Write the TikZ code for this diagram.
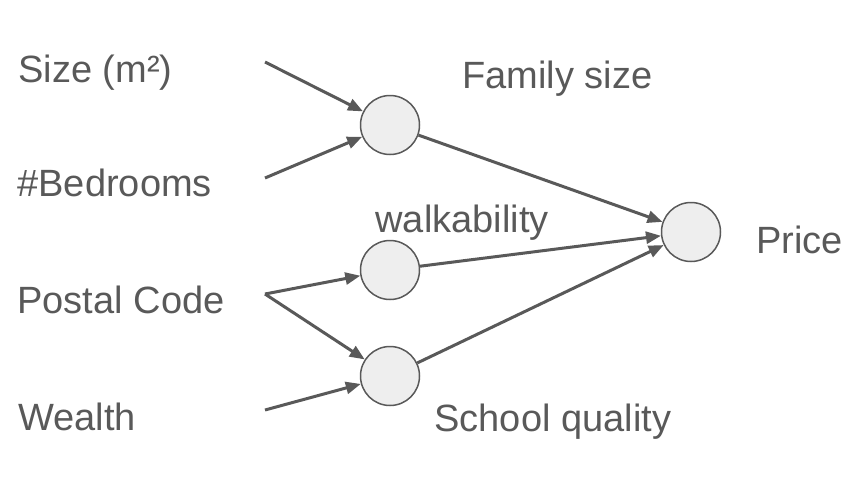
\documentclass[tikz,border=0pt]{standalone}
\usepackage{fontspec}
\setmainfont{Liberation Sans}
\usepackage{xcolor}
\usetikzlibrary{arrows.meta}

\definecolor{ink}{HTML}{595959}
\definecolor{unitfill}{HTML}{EEEEEE}

\begin{document}
\begin{tikzpicture}[x=1pt, y=-1pt, -{Triangle[length=15pt,width=12pt]}, line width=3pt, draw=ink, color=ink]
\useasboundingbox (0,0) rectangle (864,480);
\tikzstyle{every node}=[font=\fontsize{38}{44}\selectfont, text=ink, inner sep=0pt]
\tikzstyle{unit}=[circle, draw=ink, fill=unitfill, line width=1.5pt, minimum size=59pt]
\tikzstyle{label}=[anchor=base west]

% inputs
\node[label] (size) at (17,82) {Size (m²)};
\node[label] (bed) at (16,196) {\#Bedrooms};
\node[label] (postal) at (16,313) {Postal Code};
\node[label] (wealth) at (17,430) {Wealth};

\coordinate (size-out) at (265,62);
\coordinate (bed-out) at (265,178);
\coordinate (postal-out) at (265,294);
\coordinate (wealth-out) at (265,410);

% hidden units
\node[unit] (family) at (390,125) {};
\node[unit] (walk) at (390,270) {};
\node[unit] (school) at (390,376) {};
\node[unit] (price) at (691,232) {};

\node[label] (family-lbl) at (461,88) {Family size};
\node[label] (walk-lbl) at (374,232) {walkability};
\node[label] (school-lbl) at (433,431) {School quality};
\node[label] (price-lbl) at (755,253) {Price};

\path
(size-out) edge (family)
(bed-out) edge (family)
(postal-out) edge (walk)
(postal-out) edge (school)
(wealth-out) edge (school)
(family) edge (price)
(walk) edge (price)
(school) edge (price);
\end{tikzpicture}
\end{document}
